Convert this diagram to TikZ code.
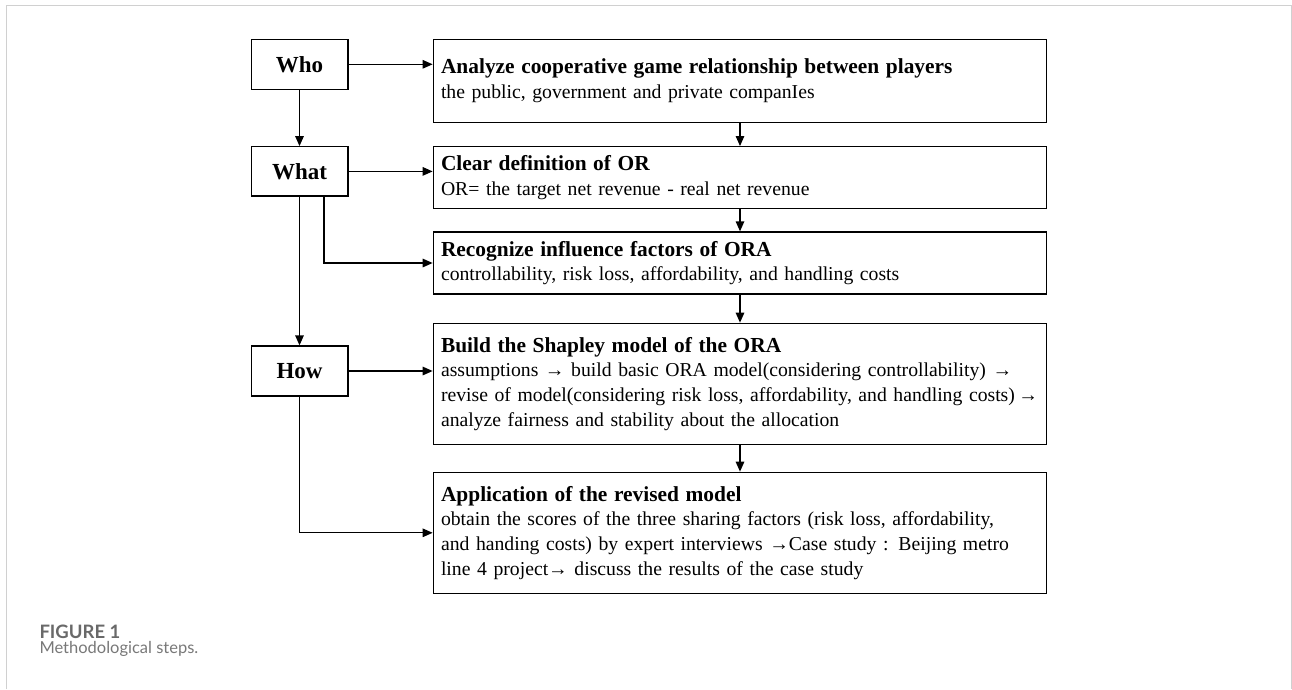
\documentclass[tikz,border=0pt]{standalone}
\usepackage{fontspec}
\setmainfont{Liberation Serif}
\newfontfamily\capfont{Lato}
\usetikzlibrary{arrows.meta,calc}
\definecolor{framegray}{RGB}{208,208,208}
\definecolor{capgray}{RGB}{105,105,105}
\definecolor{capgrayb}{RGB}{120,120,120}
\newcommand{\myhd}[1]{\mbox{\fontsize{21.4}{24.7}\selectfont\bfseries #1}}
\newcommand{\myln}[1]{\mbox{#1}}
\begin{document}
\begin{tikzpicture}[x=1pt,y=-1pt,
  qbox/.style={draw, line width=1.3pt, minimum width=96.7pt, minimum height=50pt, inner sep=0pt,
    font=\fontsize{23}{26}\selectfont\bfseries},
  sbox/.style={draw, line width=1.3pt, minimum width=613.4pt, inner xsep=7.7pt, inner ysep=0pt,
    text width=598pt, align=left, font=\fontsize{19.7}{24.7}\selectfont},
  arr/.style={line width=1.3pt, -{Triangle[length=10pt,width=8.5pt]}}]
\useasboundingbox (0,0) rectangle (1292,689);
% frame
\draw[framegray, line width=1.5pt] (6.5,689) -- (6.5,5.5) -- (1291.5,5.5) -- (1291.5,689);
% question boxes
\node[qbox] (who)  at (299.5,64.3) {Who};
\node[qbox, minimum height=49.3pt] (what) at (299.5,171.4) {What};
\node[qbox] (how)  at (299.5,371) {How};
% step boxes
\node[sbox, minimum height=83pt] (b1) at (740,80.8)
  {\myhd{Analyze cooperative game relationship between players}\\
   \myln{the public, government and private companIes}};
\node[sbox, minimum height=61.6pt] (b2) at (740,177.5)
  {\myhd{Clear definition of OR}\\
   \myln{OR= the target net revenue - real net revenue}};
\node[sbox, minimum height=62pt] (b3) at (740,263)
  {\myhd{Recognize influence factors of ORA}\\
   \myln{controllability, risk loss, affordability, and handling costs}};
\node[sbox, minimum height=121pt] (b4) at (740,383.8)
  {\myhd{Build the Shapley model of the ORA}\\
   \myln{assumptions → build basic ORA model(considering controllability) →}\\
   \myln{revise of model(considering risk loss, affordability, and handling costs)\,→}\\
   \myln{analyze fairness and stability about the allocation}};
\node[sbox, minimum height=121pt] (b5) at (740,532.8)
  {\myhd{Application of the revised model}\\
   \myln{obtain the scores of the three sharing factors (risk loss, affordability,}\\
   \myln{and handing costs) by expert interviews →Case study : Beijing metro}\\
   \myln{line 4 project→ discuss the results of the case study}};
% connectors
\draw[arr] (who.east) -- (who.east -| b1.west);
\draw[arr] (who) -- (what);
\draw[arr] (what.east) -- (what.east -| b2.west);
\draw[arr] ([xshift=24.5pt]what.south) |- (b3.west);
\draw[arr] (what) -- (how);
\draw[arr] (how.east) -- (how.east -| b4.west);
\draw[arr] (how.south) |- (b5.west);
\draw[arr] (b1) -- (b2);
\draw[arr] (b2) -- (b3);
\draw[arr] (b3) -- (b4);
\draw[arr] (b4) -- (b5);
% caption
\node[anchor=base west, inner sep=0pt, text=capgray, font=\capfont\fontsize{18.5}{20}\selectfont\bfseries] (cap1) at (39.3,638) {FIGURE 1};
\node[anchor=base west, inner sep=0pt, text=capgrayb, font=\capfont\fontsize{16.5}{18}\selectfont] (cap2) at (39.3,653) {Methodological steps.};
\end{tikzpicture}
\end{document}
